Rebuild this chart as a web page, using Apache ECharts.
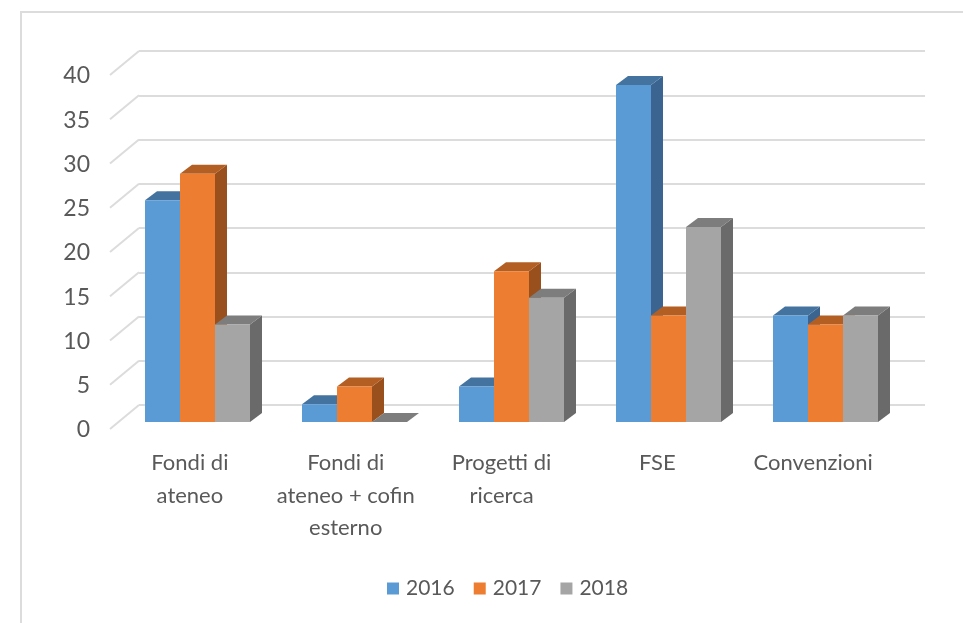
<!DOCTYPE html>
<html><head><meta charset="utf-8">
<style>html,body{margin:0;padding:0;background:#fff}#c{width:963px;height:623px}</style>
<script src="https://cdn.jsdelivr.net/npm/echarts@6/dist/echarts.min.js"></script>
</head><body><div id="c"></div>
<script>
const categories = ['Fondi di\nateneo','Fondi di\nateneo + cofin\nesterno','Progetti di\nricerca','FSE','Convenzioni'];
const years = ['2016','2017','2018'];
const values2016 = [25,2,4,38,12];
const values2017 = [28,4,17,12,11];
const values2018 = [11,0,14,22,12];
const yTicks = [0,5,10,15,20,25,30,35,40];

const FONT = 'Lato';
const TXT = '#595959';
const GRID = '#dcdcdc';
const BAR_W = 35, DX = 12, DY = 9, DIAG_X = 29, DIAG_Y = 24;
const faces = [
  {front:'#5b9bd5', top:'#44739f', side:'#3b6590'},
  {front:'#ed7d31', top:'#b35f23', side:'#99501c'},
  {front:'#a5a5a5', top:'#7d7d7d', side:'#6a6a6a'}
];

function barSeries(name, idx, data){
  const f = faces[idx];
  return {
    type:'custom', name, xAxisIndex:1, yAxisIndex:1,
    itemStyle:{color:f.front},
    encode:{x:0,y:1},
    data:data.map((v,i)=>[i,v]),
    renderItem(params, api){
      const base = api.coord([api.value(0),0]);
      const top = api.coord([api.value(0),api.value(1)]);
      const x0 = base[0] + (idx-1.5)*BAR_W, x1 = x0 + BAR_W;
      const yb = base[1], yt = top[1];
      const poly = (pts,fill)=>({type:'polygon',shape:{points:pts},style:{fill}});
      return {type:'group',children:[
        poly([[x1,yb],[x1+DX,yb-DY],[x1+DX,yt-DY],[x1,yt]],f.side),
        poly([[x0,yt],[x0+DX,yt-DY],[x1+DX,yt-DY],[x1,yt]],f.top),
        {type:'rect',shape:{x:x0,y:yt,width:BAR_W,height:yb-yt},style:{fill:f.front}}
      ]};
    }
  };
}

const chart = echarts.init(document.getElementById('c'),null,{renderer:'canvas'});
chart.setOption({
  animation:false,
  backgroundColor:'#fff',
  textStyle:{fontFamily:FONT},
  grid:[
    {left:139,top:51,width:786,height:354},      // back wall
    {left:119,top:67.3,width:785,height:354.7},  // bar front plane
    {left:112,top:76,width:779,height:354}       // labels plane
  ],
  xAxis:[
    {gridIndex:0,type:'value',min:0,max:1,show:false},
    {gridIndex:1,type:'category',data:categories,show:false},
    {gridIndex:2,type:'category',data:categories,
      axisLine:{show:false},axisTick:{show:false},
      axisLabel:{interval:0,color:TXT,fontSize:22,fontFamily:FONT,lineHeight:32.5,margin:17}}
  ],
  yAxis:[
    {gridIndex:0,type:'value',min:0,max:40,interval:5,
      axisLabel:{show:false},axisLine:{show:false},axisTick:{show:false},
      splitLine:{show:true,lineStyle:{color:GRID,width:2}}},
    {gridIndex:1,type:'value',min:0,max:40,interval:5,show:false},
    {gridIndex:2,type:'value',min:0,max:40,interval:5,
      axisLine:{show:false},axisTick:{show:false},splitLine:{show:false},
      axisLabel:{color:TXT,fontSize:23,fontFamily:FONT,margin:22}}
  ],
  legend:{
    left:382,top:573,icon:'rect',itemWidth:12,itemHeight:12,itemGap:19,
    textStyle:{color:TXT,fontSize:21,fontFamily:FONT,padding:[0,0,0,2]},
    data:years
  },
  graphic:[
    {type:'polyline',silent:true,shape:{points:[[21,623],[21,12],[963,12]]},
     style:{stroke:GRID,lineWidth:2,fill:null}}
  ],
  series:[
    {
      type:'custom',name:'diagonals',xAxisIndex:0,yAxisIndex:0,silent:true,z:1,
      data:yTicks.map(v=>[0,v]),encode:{x:0,y:1},
      renderItem(params,api){
        const p = api.coord([0,api.value(1)]);
        return {type:'line',shape:{x1:p[0]-DIAG_X,y1:p[1]+DIAG_Y,x2:p[0],y2:p[1]},
          style:{stroke:GRID,lineWidth:2}};
      }
    },
    barSeries(years[0],0,values2016),
    barSeries(years[1],1,values2017),
    barSeries(years[2],2,values2018)
  ]
});
</script></body></html>
